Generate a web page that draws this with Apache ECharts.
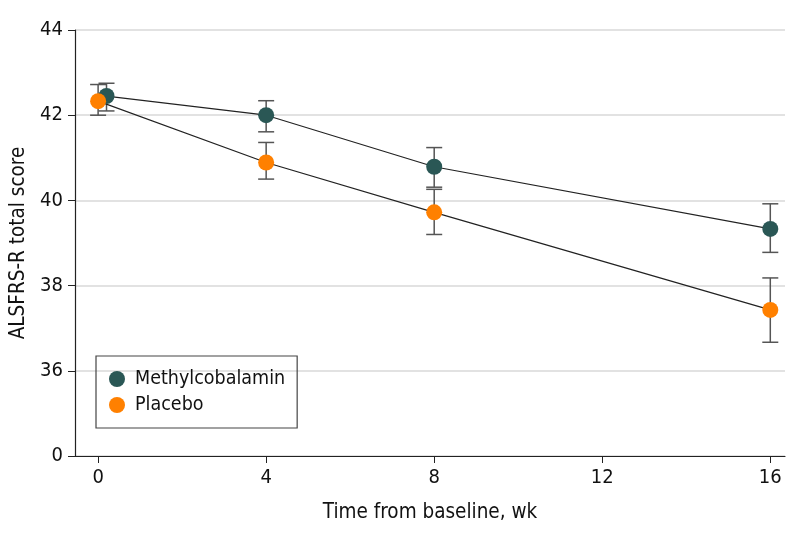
<!DOCTYPE html>
<html><head><meta charset="utf-8">
<script src="https://cdn.jsdelivr.net/npm/echarts@6/dist/echarts.min.js"></script>
<style>html,body{margin:0;padding:0;background:#fff}#c{width:794px;height:542px}</style>
</head><body><div id="c"></div>
<script>
// Data
const seriesNames = ['Methylcobalamin', 'Placebo'];
const weeksMethyl = [0.2, 4, 8, 16];
const weeksPlacebo = [0, 4, 8, 16];
const methylMean = [42.45, 42.0, 40.79, 39.33];
const methylLow  = [42.10, 41.61, 40.31, 38.78];
const methylHigh = [42.75, 42.34, 41.24, 39.92];
const placeboMean = [42.33, 40.89, 39.72, 37.43];
const placeboLow  = [42.00, 40.50, 39.20, 36.67];
const placeboHigh = [42.72, 41.36, 40.26, 38.18];
const xTicks = [0, 4, 8, 12, 16];
const yTicks = [34, 36, 38, 40, 42, 44]; // 34 position shown as broken-axis "0"
const yTickLabels = ['0', '36', '38', '40', '42', '44'];

const colors = ['#2a5755', '#ff8000'];
const FONT = '"Liberation Sans Narrow", "DejaVu Sans Condensed", "Liberation Sans", sans-serif';

function errData(xs, lo, hi) { return xs.map((x, i) => [x, lo[i], hi[i]]); }
function errSeries(data) {
  return {
    type: 'custom', z: 2, silent: true,
    renderItem: function (params, api) {
      const x = api.value(0);
      const p1 = api.coord([x, api.value(1)]);
      const p2 = api.coord([x, api.value(2)]);
      const w = 8;
      const st = { stroke: '#555', lineWidth: 1.5, fill: null };
      return { type: 'group', children: [
        { type: 'line', shape: { x1: p1[0], y1: p1[1], x2: p2[0], y2: p2[1] }, style: st },
        { type: 'line', shape: { x1: p1[0]-w, y1: p1[1], x2: p1[0]+w, y2: p1[1] }, style: st },
        { type: 'line', shape: { x1: p2[0]-w, y1: p2[1], x2: p2[0]+w, y2: p2[1] }, style: st }
      ]};
    },
    encode: { x: 0, y: [1, 2] },
    data: data
  };
}
function lineSeries(name, xs, ys, color) {
  return {
    name: name, type: 'line', z: 3,
    data: xs.map((x, i) => [x, ys[i]]),
    symbol: 'circle', symbolSize: 16,
    itemStyle: { color: color },
    lineStyle: { color: '#222', width: 1.2 },
    emphasis: { disabled: true }
  };
}

const chart = echarts.init(document.getElementById('c'), null, { renderer: 'canvas' });
chart.setOption({
  animation: false,
  textStyle: { fontFamily: FONT },
  grid: { left: 72, right: 9, top: 30, bottom: 86, containLabel: false },
  legend: {
    data: seriesNames.map(n => ({ name: n, icon: 'circle' })),
    orient: 'vertical', left: 96, top: 356,
    borderColor: '#444', borderWidth: 1.2,
    padding: [13, 12, 13, 13], itemGap: 6,
    itemWidth: 16, itemHeight: 16,
    textStyle: { fontSize: 19.5, color: '#111', fontFamily: FONT, padding: [0, 0, 0, 5] }
  },
  xAxis: {
    type: 'value', min: -0.55, max: 16.35,
    name: 'Time from baseline, wk', nameLocation: 'middle', nameGap: 46,
    nameTextStyle: { fontSize: 20.5, color: '#111', fontFamily: FONT },
    axisLine: { show: true, onZero: false, lineStyle: { color: '#222', width: 1.2 } },
    axisTick: { show: true, length: 7, customValues: xTicks, lineStyle: { color: '#222' } },
    axisLabel: { customValues: xTicks, fontSize: 20, color: '#111', margin: 12, fontFamily: FONT },
    splitLine: { show: false }
  },
  yAxis: {
    type: 'value', min: 34, max: 44, interval: 2,
    name: 'ALSFRS-R total score', nameLocation: 'middle', nameGap: 46, nameRotate: 90,
    nameTextStyle: { fontSize: 20.5, color: '#111', fontFamily: FONT },
    axisLine: { show: true, onZero: false, lineStyle: { color: '#222', width: 1.2 } },
    axisTick: { show: true, length: 7, lineStyle: { color: '#222' } },
    axisLabel: { fontSize: 20, color: '#111', margin: 12, fontFamily: FONT,
      formatter: v => { const i = yTicks.indexOf(v); return i >= 0 ? yTickLabels[i] : ''; } },
    splitLine: { show: true, lineStyle: { color: '#d9d9d9', width: 1.5 } }
  },
  series: [
    errSeries(errData(weeksMethyl, methylLow, methylHigh)),
    errSeries(errData(weeksPlacebo, placeboLow, placeboHigh)),
    lineSeries(seriesNames[0], weeksMethyl, methylMean, colors[0]),
    lineSeries(seriesNames[1], weeksPlacebo, placeboMean, colors[1])
  ]
});
</script></body></html>
